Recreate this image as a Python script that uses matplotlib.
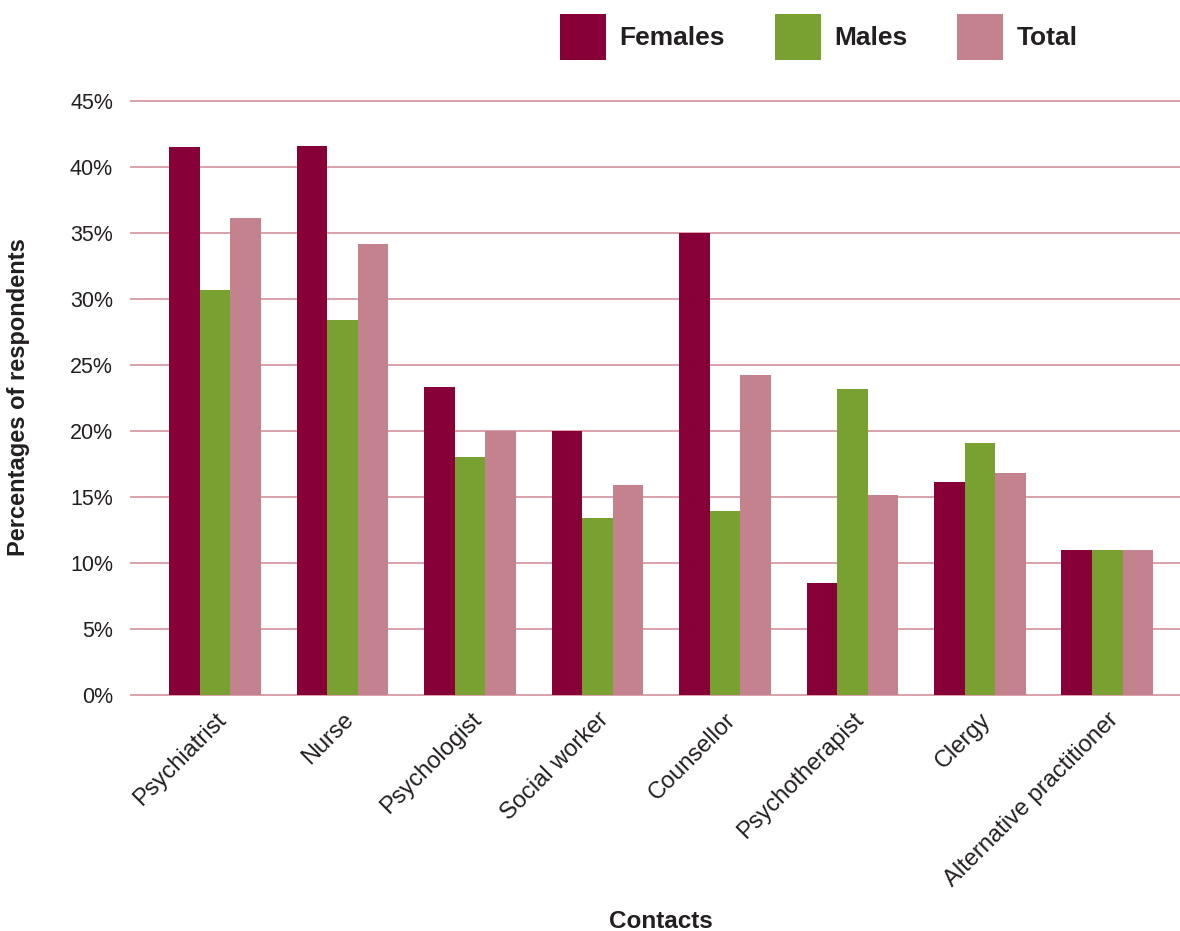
import numpy as np
import matplotlib
matplotlib.use("Agg")
import matplotlib.pyplot as plt
from matplotlib.ticker import FuncFormatter, MultipleLocator

plt.rcParams['font.family'] = ['Liberation Sans', 'DejaVu Sans']

categories = ["Psychiatrist", "Nurse", "Psychologist", "Social worker",
              "Counsellor", "Psychotherapist", "Clergy", "Alternative practitioner"]
females = [41.5, 41.6, 23.3, 20.0, 35.0, 8.5, 16.1, 11.0]
males = [30.7, 28.4, 18.0, 13.4, 13.9, 23.2, 19.1, 11.0]
total = [36.1, 34.2, 20.0, 15.9, 24.2, 15.1, 16.8, 11.0]
series_names = ["Females", "Males", "Total"]

colors = ["#870037", "#78A132", "#C4828F"]
grid_color = "#D99AA5"
text_color = "#231F20"

fig = plt.figure(figsize=(11.8, 9.31), dpi=100)
ax = fig.add_axes([0.111, 0.2538, 0.889, 0.6377])

x = np.arange(len(categories))
w = 0.24
bars = []
for i, (vals, name, c) in enumerate(zip([females, males, total], series_names, colors)):
    b = ax.bar(x + (i - 1) * w, vals, width=w, color=c, label=name, zorder=3)
    bars.append(b)

ax.set_ylim(0, 45)
ax.set_xlim(-0.66, 7.57)
ax.yaxis.set_major_locator(MultipleLocator(5))
ax.yaxis.set_major_formatter(FuncFormatter(lambda v, p: f"{int(round(v))}%"))
ax.grid(axis='y', color=grid_color, linewidth=1.3, zorder=0)
ax.set_axisbelow(True)
for gl in ax.get_ygridlines():
    gl.set_clip_on(False)
for s in ax.spines.values():
    s.set_visible(False)
ax.tick_params(axis='both', length=0, colors=text_color)
ax.tick_params(axis='y', labelsize=15.5, pad=13)
ax.set_xticks(x)
ax.set_xticklabels(categories, rotation=45, ha='right', va='top',
                   rotation_mode='anchor', fontsize=17, color=text_color)
ax.tick_params(axis='x', pad=10)

fig.text(19 / 1180, 1 - 397 / 931, "Percentages of respondents", rotation=90,
         fontsize=17, fontweight='bold', color=text_color,
         ha='center', va='center')
fig.text(661 / 1180, 1 - 921 / 931, "Contacts", fontsize=17.5, fontweight='bold',
         color=text_color, ha='center', va='center')

fig.legend(handles=bars, labels=series_names, loc='center left',
           bbox_to_anchor=(0.4746, 1 - 37 / 931), bbox_transform=fig.transFigure,
           ncol=3, frameon=False, handlelength=1.74,
           handleheight=2.3, handletextpad=0.5, columnspacing=1.9,
           borderpad=0, borderaxespad=0, prop={'weight': 'bold', 'size': 19})
for t in fig.legends[0].get_texts():
    t.set_color(text_color)

fig.savefig("out.png", dpi=100, facecolor="white")
